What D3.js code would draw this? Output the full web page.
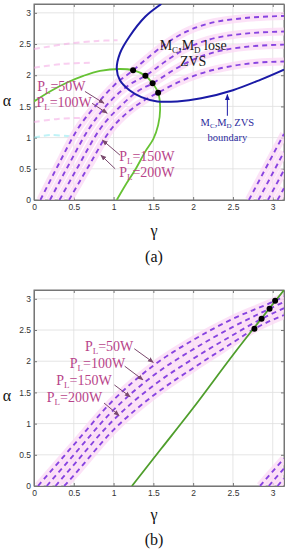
<!DOCTYPE html>
<html>
<head>
<meta charset="utf-8">
<script src="https://cdn.jsdelivr.net/npm/d3@7"></script>
<style>
body { margin: 0; background: #fff; }
</style>
</head>
<body>
<script>
// ticks
const tickVals = [0, 0.5, 1, 1.5, 2, 2.5, 3];
const tickLabels = ["0", "0.5", "1", "1.5", "2", "2.5", "3"];
const powerLabels = ["50W", "100W", "150W", "200W"];

// (a) constant power curves, [gamma, alpha]
const a50 = [[0.08,0],[0.3,0.55],[0.54,1.12],[0.8,1.55],[1.0,1.83],[1.245,2.08],[1.45,2.3],[1.65,2.5],[1.9,2.69],[2.2,2.83],[2.6,2.91],[3.1416,2.95]];
const a100 = [[0.2,0],[0.43,0.55],[0.68,1.12],[0.95,1.57],[1.2,1.85],[1.4,1.99],[1.65,2.22],[1.9,2.42],[2.2,2.57],[2.6,2.66],[3.1416,2.7]];
const a150 = [[0.32,0],[0.56,0.55],[0.82,1.12],[1.1,1.52],[1.3,1.74],[1.49,1.87],[1.75,2.08],[2.0,2.25],[2.3,2.38],[2.7,2.46],[3.1416,2.49]];
const a200 = [[0.44,0],[0.69,0.55],[0.96,1.12],[1.2,1.43],[1.4,1.61],[1.56,1.72],[1.8,1.88],[2.1,2.03],[2.5,2.15],[2.8,2.2],[3.1416,2.22]];
// (a) second branch, lower right
const a50r = [[2.70,0],[3.1416,1.06]];
const a100r = [[2.82,0],[3.1416,0.77]];
const a150r = [[2.94,0],[3.1416,0.48]];
const a200r = [[3.06,0],[3.1416,0.19]];

// (a) green curve, blue ZVS boundary, intersection points
const aGreen = [[0,1.58],[0.2,1.74],[0.41,1.88],[0.62,1.99],[0.83,2.07],[1.08,2.1],[1.245,2.08],[1.4,1.99],[1.49,1.87],[1.56,1.72],[1.585,1.45],[1.56,1.2],[1.5,0.98],[1.4,0.78],[1.27,0.48],[1.15,0.24],[1.04,0]];
const aBlue = [[1.6,3.1416],[1.4,2.94],[1.2,2.62],[1.08,2.35],[1.04,2.1],[1.08,1.92],[1.2,1.76],[1.35,1.65],[1.55,1.58],[1.8,1.58],[2.1,1.63],[2.5,1.76],[2.85,1.93],[3.1416,2.09]];
const aDots = [[1.245,2.08],[1.4,1.99],[1.49,1.87],[1.56,1.72]];

// (a) faint ghost traces in the original figure
const aGhost1 = [[0,2.42],[0.4,2.5],[0.8,2.55],[1.05,2.56]];
const aGhost2 = [[0,2.12],[0.35,2.18],[0.75,2.2]];
const aGhost3 = [[0,1.25],[0.3,1.3],[0.7,1.32]];
const aCyan = [[0,1.0],[0.2,1.04],[0.45,1.02]];

// (b) constant power curves
const b50 = [[0.05,0],[0.5,0.66],[1.0,1.38],[1.5,1.93],[2.0,2.34],[2.5,2.68],[3.03,2.97],[3.1416,3.04]];
const b100 = [[0.16,0],[0.5,0.5],[1.0,1.22],[1.5,1.77],[2.0,2.19],[2.5,2.55],[2.96,2.84],[3.1416,2.95]];
const b150 = [[0.27,0],[0.5,0.34],[1.0,1.06],[1.5,1.61],[2.0,2.04],[2.5,2.42],[2.86,2.68],[3.1416,2.85]];
const b200 = [[0.38,0],[0.5,0.17],[1.0,0.9],[1.5,1.45],[2.0,1.89],[2.5,2.3],[2.77,2.52],[3.1416,2.74]];
const b50r = [[2.84,0],[3.1416,0.44]];
const b100r = [[2.95,0],[3.1416,0.28]];
const b150r = [[3.06,0],[3.1416,0.12]];

const bGreen = [[1.23,0],[1.6,0.6],[2.0,1.25],[2.5,2.1],[3.1416,3.14]];
const bDots = [[2.77,2.52],[2.86,2.68],[2.96,2.84],[3.03,2.97]];

const W = 290, H = 550;
const svg = d3.select("body").append("svg")
    .attr("width", W)
    .attr("height", H)
    .style("font-family", "'Liberation Serif', 'Times New Roman', serif");

const pinkTxt = "#b8448a";
const arrowCol = "#7b4a6e";

const defs = svg.append("defs");
function marker(id, col) {
  defs.append("marker")
      .attr("id", id)
      .attr("viewBox", "0 0 10 10")
      .attr("refX", 9).attr("refY", 5)
      .attr("markerWidth", 6).attr("markerHeight", 6)
      .attr("orient", "auto")
    .append("path")
      .attr("d", "M0,1 L10,5 L0,9 Z")
      .attr("fill", col);
}
marker("arrP", arrowCol);
marker("arrB", "#1a1aa6");

function panel(id, top, bottom) {
  const x = d3.scaleLinear().domain([0, Math.PI]).range([34, 284]);
  const y = d3.scaleLinear().domain([0, Math.PI]).range([bottom, top]);
  const g = svg.append("g");

  defs.append("clipPath").attr("id", "clip" + id)
    .append("rect")
      .attr("x", x(0)).attr("y", y(Math.PI))
      .attr("width", x(Math.PI) - x(0))
      .attr("height", y(0) - y(Math.PI));

  // grid
  g.selectAll(".gx").data(tickVals).enter().append("line")
      .attr("x1", d => x(d)).attr("x2", d => x(d))
      .attr("y1", y(0)).attr("y2", y(Math.PI))
      .attr("stroke", "#dedede").attr("stroke-width", 0.8);
  g.selectAll(".gy").data(tickVals).enter().append("line")
      .attr("y1", d => y(d)).attr("y2", d => y(d))
      .attr("x1", x(0)).attr("x2", x(Math.PI))
      .attr("stroke", "#dedede").attr("stroke-width", 0.8);

  // axes
  const fmt = (d, i) => tickLabels[i];
  g.append("g").attr("transform", `translate(0,${y(0)})`)
      .call(d3.axisBottom(x).tickValues(tickVals).tickFormat(fmt).tickSizeInner(-3).tickSizeOuter(0).tickPadding(4));
  g.append("g").attr("transform", `translate(${x(0)},0)`)
      .call(d3.axisLeft(y).tickValues(tickVals).tickFormat(fmt).tickSizeInner(-3).tickSizeOuter(0).tickPadding(3));
  g.append("g").attr("transform", `translate(0,${y(Math.PI)})`)
      .call(d3.axisTop(x).tickValues(tickVals).tickFormat("").tickSizeInner(-3).tickSizeOuter(0));
  g.append("g").attr("transform", `translate(${x(Math.PI)},0)`)
      .call(d3.axisRight(y).tickValues(tickVals).tickFormat("").tickSizeInner(-3).tickSizeOuter(0));
  g.selectAll(".domain").attr("stroke", "#777");
  g.selectAll(".tick line").attr("stroke", "#777");
  g.selectAll(".tick text")
      .attr("font-family", "'Liberation Sans', Arial, sans-serif")
      .attr("font-size", 8.5).attr("fill", "#333");

  g.append("rect")
      .attr("x", x(0)).attr("y", y(Math.PI))
      .attr("width", x(Math.PI) - x(0))
      .attr("height", y(0) - y(Math.PI))
      .attr("fill", "none").attr("stroke", "#777").attr("stroke-width", 1);

  const plot = g.append("g").attr("clip-path", `url(#clip${id})`);
  return { x, y, g, plot };
}

// pink glow behind the dashed curves
function halo(p, pts) {
  const line = d3.line().x(d => p.x(d[0])).y(d => p.y(d[1])).curve(d3.curveMonotoneX);
  p.plot.append("path").attr("d", line(pts))
      .attr("fill", "none").attr("stroke", "#fbd8f4")
      .attr("stroke-width", 8).attr("stroke-opacity", 0.75);
}
function dashTop(p, pts) {
  const line = d3.line().x(d => p.x(d[0])).y(d => p.y(d[1])).curve(d3.curveMonotoneX);
  p.plot.append("path").attr("d", line(pts))
      .attr("fill", "none").attr("stroke", "#8844e0")
      .attr("stroke-width", 1.9).attr("stroke-dasharray", "5,4");
}
function ghost(p, pts, col) {
  const line = d3.line().x(d => p.x(d[0])).y(d => p.y(d[1])).curve(d3.curveCatmullRom);
  p.plot.append("path").attr("d", line(pts))
      .attr("fill", "none").attr("stroke", col)
      .attr("stroke-width", 2).attr("stroke-dasharray", "6,4").attr("opacity", 0.5);
}

function pLabel(p, gx, ay, pw) {
  const t = p.g.append("text")
      .attr("x", p.x(gx)).attr("y", p.y(ay))
      .attr("font-size", 14).attr("fill", pinkTxt);
  t.append("tspan").text("P");
  t.append("tspan").attr("font-size", 9).attr("dy", 3).text("L");
  t.append("tspan").attr("dy", -3).text("=" + pw);
}
function arrow(p, from, to, col, mk) {
  p.g.append("line")
      .attr("x1", p.x(from[0])).attr("y1", p.y(from[1]))
      .attr("x2", p.x(to[0])).attr("y2", p.y(to[1]))
      .attr("stroke", col).attr("stroke-width", 1)
      .attr("marker-end", `url(#${mk})`);
}
function dots(p, pts) {
  p.plot.selectAll(".dot").data(pts).enter().append("circle")
      .attr("cx", d => p.x(d[0])).attr("cy", d => p.y(d[1]))
      .attr("r", 3).attr("fill", "#000");
}

// ---------- panel (a)
const pa = panel("a", 4, 200);
ghost(pa, aGhost1, "#f3a0e2");
ghost(pa, aGhost2, "#f3a0e2");
ghost(pa, aGhost3, "#f3a0e2");
ghost(pa, aCyan, "#7fe8f0");
const aSets = [a50, a100, a150, a200, a50r, a100r, a150r, a200r];
aSets.forEach(s => halo(pa, s));
aSets.forEach(s => dashTop(pa, s));

pa.plot.append("path")
    .attr("d", d3.line().x(d => pa.x(d[0])).y(d => pa.y(d[1])).curve(d3.curveCatmullRom)(aGreen))
    .attr("fill", "none").attr("stroke", "#66c234").attr("stroke-width", 1.8);
pa.plot.append("path")
    .attr("d", d3.line().x(d => pa.x(d[0])).y(d => pa.y(d[1])).curve(d3.curveCatmullRom)(aBlue))
    .attr("fill", "none").attr("stroke", "#1a1aa6").attr("stroke-width", 2);
dots(pa, aDots);

pLabel(pa, 0.04, 1.74, powerLabels[0]);
pLabel(pa, 0.03, 1.49, powerLabels[1]);
pLabel(pa, 1.07, 0.62, powerLabels[2]);
pLabel(pa, 1.07, 0.37, powerLabels[3]);
arrow(pa, [0.64, 1.74], [0.88, 1.55], arrowCol, "arrP");
arrow(pa, [0.73, 1.55], [0.92, 1.39], arrowCol, "arrP");
arrow(pa, [1.08, 0.72], [0.86, 0.96], arrowCol, "arrP");
arrow(pa, [1.02, 0.5], [0.84, 0.72], arrowCol, "arrP");

// MC,MD lose ZVS
const t1 = pa.g.append("text").attr("x", pa.x(2.0)).attr("y", pa.y(2.4))
    .attr("font-size", 14).attr("fill", "#1a1a1a").attr("text-anchor", "middle");
t1.append("tspan").text("M");
t1.append("tspan").attr("font-size", 9).attr("dy", 3).text("C");
t1.append("tspan").attr("dy", -3).text(",M");
t1.append("tspan").attr("font-size", 9).attr("dy", 3).text("D");
t1.append("tspan").attr("dy", -3).text(" lose");
pa.g.append("text").attr("x", pa.x(2.0)).attr("y", pa.y(2.15))
    .attr("font-size", 14).attr("fill", "#1a1a1a").attr("text-anchor", "middle").text("ZVS");

const t2 = pa.g.append("text").attr("x", pa.x(2.43)).attr("y", pa.y(1.19))
    .attr("font-size", 10.5).attr("fill", "#2a2a9c").attr("text-anchor", "middle");
t2.append("tspan").text("M");
t2.append("tspan").attr("font-size", 7).attr("dy", 2).text("C");
t2.append("tspan").attr("dy", -2).text(",M");
t2.append("tspan").attr("font-size", 7).attr("dy", 2).text("D");
t2.append("tspan").attr("dy", -2).text(" ZVS");
pa.g.append("text").attr("x", pa.x(2.43)).attr("y", pa.y(0.94))
    .attr("font-size", 10.5).attr("fill", "#2a2a9c").attr("text-anchor", "middle").text("boundary");
arrow(pa, [2.43, 1.35], [2.43, 1.69], "#1a1aa6", "arrB");

svg.append("text").attr("x", 7).attr("y", 106).attr("font-size", 16)
    .attr("text-anchor", "middle").attr("fill", "#111").text("α");
svg.append("text").attr("x", 154).attr("y", 236).attr("font-size", 16)
    .attr("text-anchor", "middle").attr("fill", "#111").text("γ");
svg.append("text").attr("x", 154).attr("y", 262).attr("font-size", 16)
    .attr("text-anchor", "middle").attr("fill", "#111").text("(a)");

// ---------- panel (b)
const pb = panel("b", 290, 486);
const bSets = [b50, b100, b150, b200, b50r, b100r, b150r];
bSets.forEach(s => halo(pb, s));
bSets.forEach(s => dashTop(pb, s));
pb.plot.append("path")
    .attr("d", d3.line().x(d => pb.x(d[0])).y(d => pb.y(d[1])).curve(d3.curveMonotoneX)(bGreen))
    .attr("fill", "none").attr("stroke", "#4f9e2c").attr("stroke-width", 1.8);
dots(pb, bDots);

pLabel(pb, 0.64, 2.17, powerLabels[0]);
pLabel(pb, 0.45, 1.89, powerLabels[1]);
pLabel(pb, 0.28, 1.62, powerLabels[2]);
pLabel(pb, 0.16, 1.35, powerLabels[3]);
arrow(pb, [1.26, 2.2], [1.5, 1.98], arrowCol, "arrP");
arrow(pb, [1.14, 1.92], [1.37, 1.7], arrowCol, "arrP");
arrow(pb, [1.01, 1.62], [1.21, 1.43], arrowCol, "arrP");
arrow(pb, [0.88, 1.33], [1.07, 1.13], arrowCol, "arrP");

svg.append("text").attr("x", 7).attr("y", 401).attr("font-size", 16)
    .attr("text-anchor", "middle").attr("fill", "#111").text("α");
svg.append("text").attr("x", 154).attr("y", 520).attr("font-size", 16)
    .attr("text-anchor", "middle").attr("fill", "#111").text("γ");
svg.append("text").attr("x", 154).attr("y", 545).attr("font-size", 16)
    .attr("text-anchor", "middle").attr("fill", "#111").text("(b)");
</script>
</body>
</html>
